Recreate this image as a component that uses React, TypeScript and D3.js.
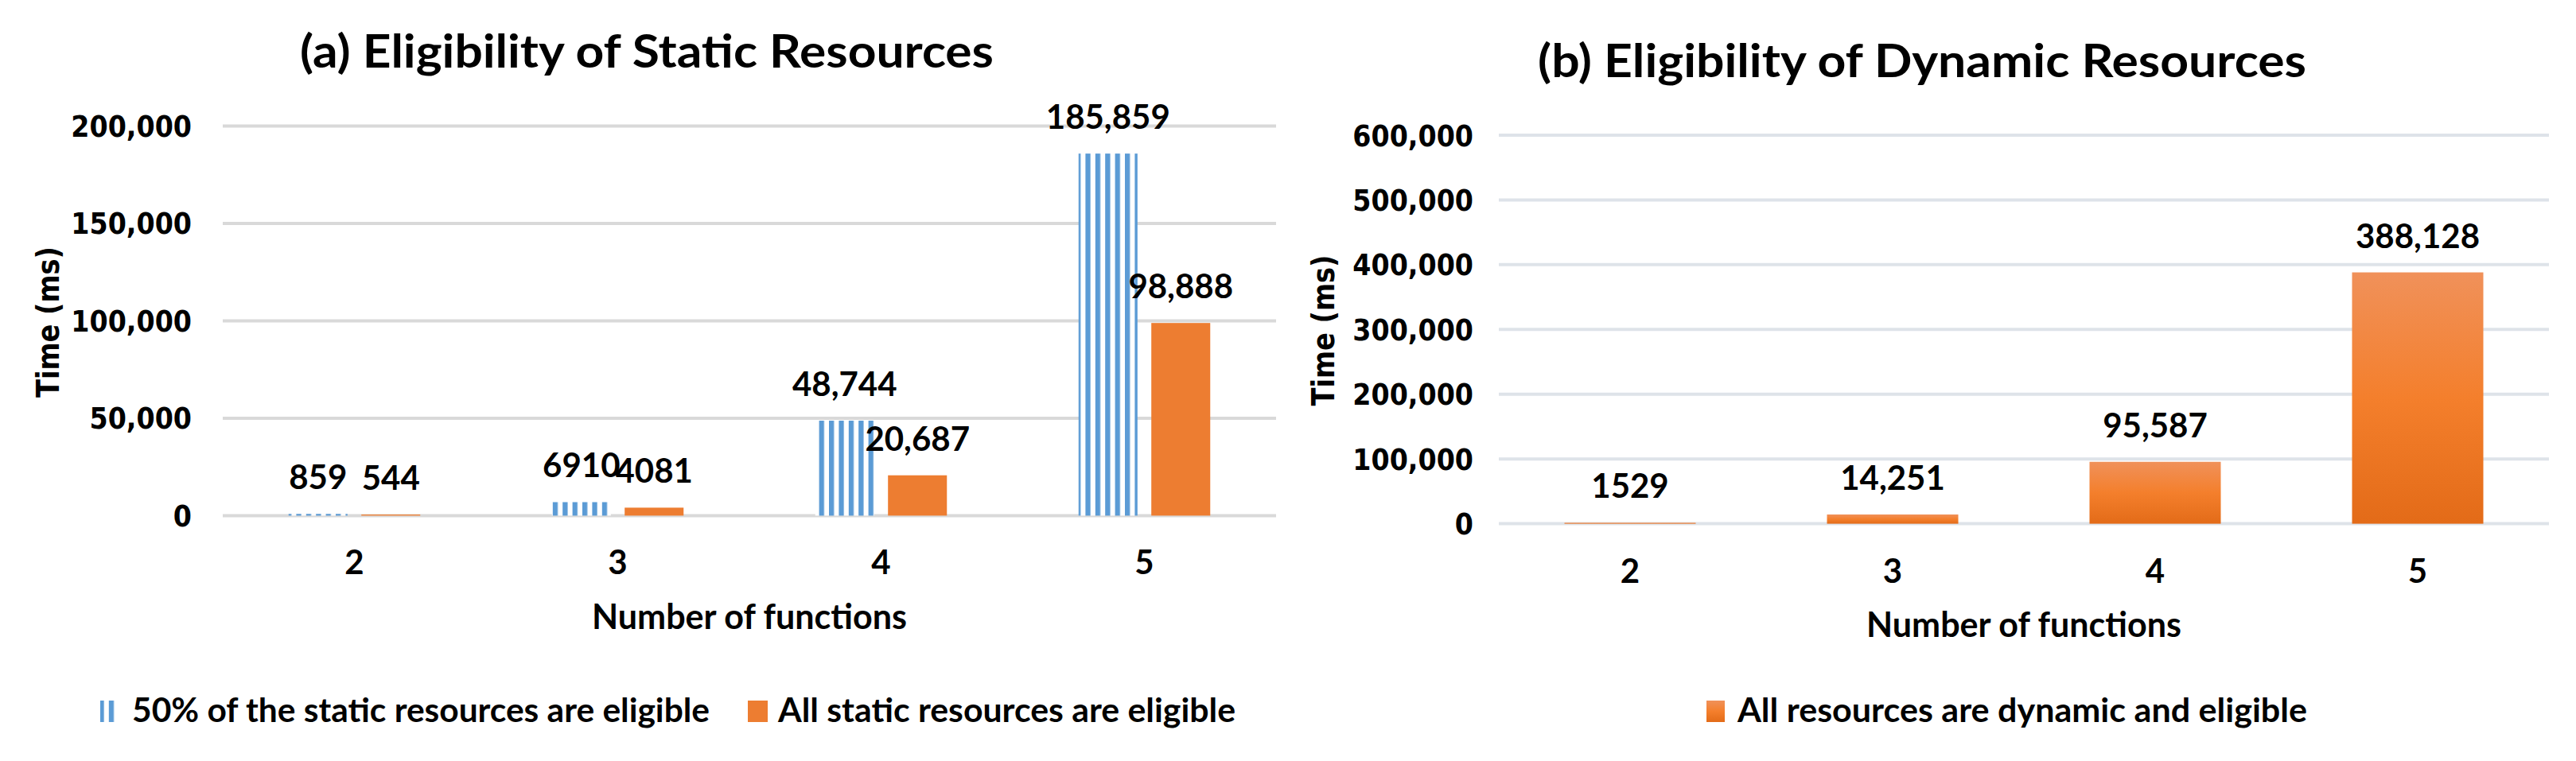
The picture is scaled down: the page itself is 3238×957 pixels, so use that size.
import React from "react";
import * as d3 from "d3";

// categories = number of functions
const categories = ["2", "3", "4", "5"];

// (a) static resources, time in ms
const halfEligible = [859, 6910, 48744, 185859];
const allEligible = [544, 4081, 20687, 98888];
const staticTicks = [0, 50000, 100000, 150000, 200000];

// (b) dynamic resources, time in ms
const dynamicEligible = [1529, 14251, 95587, 388128];
const dynamicTicks = [0, 100000, 200000, 300000, 400000, 500000, 600000];

const seriesA = ["50% of the static resources are eligible", "All static resources are eligible"];
const seriesB = ["All resources are dynamic and eligible"];

const BLUE = "#5B9BD5";
const ORANGE = "#ED7D31";
const LABEL_FONT = "Lato, 'Open Sans', sans-serif";
const TICK_FONT = "'DejaVu Sans', Verdana, sans-serif";

// excel prints 4 digit labels without the thousands separator here
const fmtLabel = (v: number) => (v >= 10000 ? d3.format(",")(v) : String(v));
const fmtTick = d3.format(",");

function App() {
  // ---- chart (a)
  const xA = d3.scaleBand().domain(categories).range([280, 1604]).paddingInner(0.5).paddingOuter(0.25);
  const subA = d3.scaleBand().domain(["half", "all"]).range([0, xA.bandwidth()]).paddingInner(0.19);
  const yA = d3.scaleLinear().domain([0, 200000]).range([648.4, 158.5]);

  // ---- chart (b)
  const xB = d3.scaleBand().domain(categories).range([1884, 3204]).paddingInner(0.5).paddingOuter(0.25);
  const yB = d3.scaleLinear().domain([0, 600000]).range([658.6, 170]);

  const centerA = (c: string) => (xA(c) as number) + xA.bandwidth() / 2;
  const centerB = (c: string) => (xB(c) as number) + xB.bandwidth() / 2;

  const tickText = (x: number, y: number, t: string, key: string) => (
    <g key={key} transform={`translate(${x},${y}) scale(0.9,1)`}>
      <text textAnchor="end" fontFamily={TICK_FONT} fontWeight={700} fontSize={37} fill="#000">
        {t}
      </text>
    </g>
  );

  const yTitle = (x: number, y: number) => (
    <g transform={`translate(${x},${y}) rotate(-90)`}>
      <text
        textAnchor="middle"
        fontFamily={TICK_FONT}
        fontWeight={700}
        fontSize={39}
        fill="#000"
        textLength={190}
        lengthAdjust="spacingAndGlyphs"
      >
        Time (ms)
      </text>
    </g>
  );

  const labelStyle = {
    fontFamily: LABEL_FONT,
    fontWeight: 700,
    fill: "#000",
  } as React.CSSProperties;

  return (
    <svg
      width={3238}
      height={957}
      style={{ position: "absolute", left: 0, top: 0, background: "#fff" }}
    >
      <defs>
        <pattern id="vstripe" patternUnits="userSpaceOnUse" x={0.4} y={0} width={12.4} height={10}>
          <rect x={0} y={0} width={12.4} height={10} fill="#fff" />
          <rect x={0} y={0} width={6.3} height={10} fill={BLUE} />
        </pattern>
        <linearGradient id="orangeGrad" x1="0" y1="0" x2="0" y2="1">
          <stop offset="0" stopColor="#F0915A" />
          <stop offset="0.5" stopColor="#F47F2C" />
          <stop offset="1" stopColor="#E36B18" />
        </linearGradient>
      </defs>

      {/* ================= (a) ================= */}
      <text x={813} y={85} textAnchor="middle" fontSize={57} style={labelStyle} textLength={872} lengthAdjust="spacingAndGlyphs">
        (a) Eligibility of Static Resources
      </text>

      {staticTicks.map((t) => (
        <line key={"ga" + t} x1={280} x2={1604} y1={yA(t)} y2={yA(t)} stroke="#D9D9D9" strokeWidth={4} />
      ))}
      {staticTicks.map((t) => tickText(241, yA(t) + 13.5, fmtTick(t), "ta" + t))}
      {yTitle(74, 405)}

      {categories.map((c, i) => {
        const gx = xA(c) as number;
        const hx = gx + (subA("half") as number);
        const ax = gx + (subA("all") as number);
        return (
          <g key={"ba" + c}>
            <rect x={hx} y={yA(halfEligible[i])} width={subA.bandwidth()} height={yA(0) - yA(halfEligible[i])} fill="url(#vstripe)" />
            <rect x={ax} y={yA(allEligible[i])} width={subA.bandwidth()} height={yA(0) - yA(allEligible[i])} fill={ORANGE} />
            <text x={hx + subA.bandwidth() / 2} y={yA(halfEligible[i]) - 31} textAnchor="middle" fontSize={42} style={labelStyle}>
              {fmtLabel(halfEligible[i])}
            </text>
            <text x={ax + subA.bandwidth() / 2} y={yA(allEligible[i]) - 31} textAnchor="middle" fontSize={42} style={labelStyle}>
              {fmtLabel(allEligible[i])}
            </text>
            <text x={centerA(c)} y={721.5} textAnchor="middle" fontSize={42} style={labelStyle}>
              {c}
            </text>
          </g>
        );
      })}

      <text x={942} y={791} textAnchor="middle" fontSize={44} style={labelStyle} textLength={396} lengthAdjust="spacingAndGlyphs">
        Number of functions
      </text>

      {/* legend (a) */}
      <rect x={126} y={881} width={19} height={27} fill="url(#vstripe)" />
      <text x={166} y={908} fontSize={42} style={labelStyle} textLength={726} lengthAdjust="spacingAndGlyphs">
        {seriesA[0]}
      </text>
      <rect x={940} y={881} width={25} height={27} fill={ORANGE} />
      <text x={978} y={908} fontSize={42} style={labelStyle} textLength={575} lengthAdjust="spacingAndGlyphs">
        {seriesA[1]}
      </text>

      {/* ================= (b) ================= */}
      <text x={2416} y={97} textAnchor="middle" fontSize={57} style={labelStyle} textLength={966} lengthAdjust="spacingAndGlyphs">
        (b) Eligibility of Dynamic Resources
      </text>

      {dynamicTicks.map((t) => (
        <line key={"gb" + t} x1={1884} x2={3204} y1={yB(t)} y2={yB(t)} stroke="#DEE3E9" strokeWidth={4} />
      ))}
      {dynamicTicks.map((t) => tickText(1852, yB(t) + 13.5, fmtTick(t), "tb" + t))}
      {yTitle(1677, 415.5)}

      {categories.map((c, i) => {
        const bx = xB(c) as number;
        return (
          <g key={"bb" + c}>
            <rect x={bx} y={yB(dynamicEligible[i])} width={xB.bandwidth()} height={yB(0) - yB(dynamicEligible[i])} fill="url(#orangeGrad)" />
            <text x={centerB(c)} y={yB(dynamicEligible[i]) - 31} textAnchor="middle" fontSize={42} style={labelStyle}>
              {fmtLabel(dynamicEligible[i])}
            </text>
            <text x={centerB(c)} y={733} textAnchor="middle" fontSize={42} style={labelStyle}>
              {c}
            </text>
          </g>
        );
      })}

      <text x={2544} y={801} textAnchor="middle" fontSize={44} style={labelStyle} textLength={396} lengthAdjust="spacingAndGlyphs">
        Number of functions
      </text>

      {/* legend (b) */}
      <rect x={2145} y={881} width={23} height={27} fill="url(#orangeGrad)" />
      <text x={2184} y={908} fontSize={42} style={labelStyle} textLength={716} lengthAdjust="spacingAndGlyphs">
        {seriesB[0]}
      </text>
    </svg>
  );
}

export default App;
